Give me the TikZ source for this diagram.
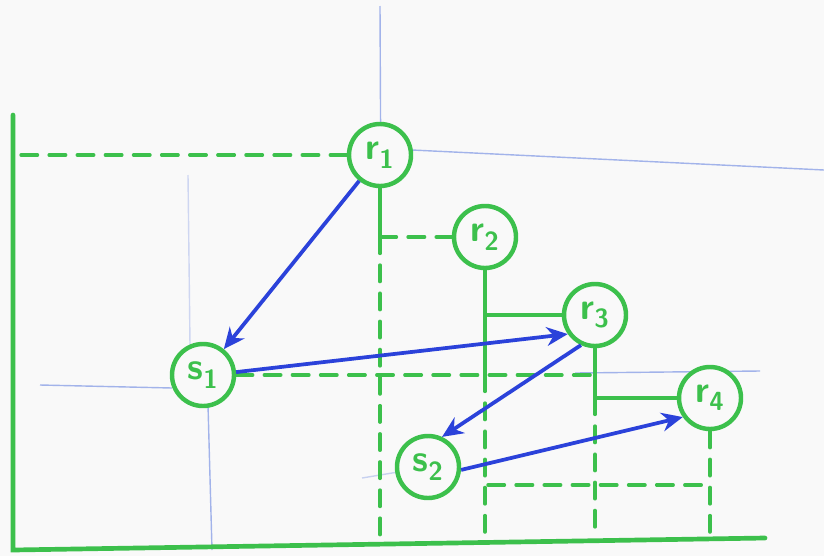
\documentclass[tikz,border=0pt]{standalone}
\usetikzlibrary{arrows.meta, calc}
\definecolor{wbGreen}{HTML}{3CC04C}
\definecolor{wbBlue}{HTML}{2B42DA}
\definecolor{wbFaint}{HTML}{7E96E4}
\definecolor{wbBoard}{HTML}{F9F9F9}
\tikzset{
  axisline/.style  = {wbGreen, line width=4pt, line cap=round},
  guide/.style     = {wbGreen, line width=3pt, line cap=round},
  guidedash/.style = {guide, dash pattern=on 14pt off 10pt},
  pt/.style        = {circle, draw=wbGreen, line width=3.8pt, minimum size=1.86cm,
                      inner sep=0pt, fill=wbBoard, text=wbGreen,
                      font=\sffamily\bfseries\fontsize{32}{34}\selectfont},
  link/.style      = {-{Stealth[length=18pt, width=16pt]}, wbBlue, line width=3.2pt},
  ghost/.style     = {wbFaint, line width=1.2pt, opacity=0.7},
}

\begin{document}
\begin{tikzpicture}[x=0.03cm, y=-0.03cm]
  \fill[wbBoard] (0,0) rectangle (824,556);
  \useasboundingbox (0,0) rectangle (824,556);
  % half erased blue lines
  \draw[ghost] (380,6) -- (381,215);
  \draw[ghost] (412,150) -- (824,170);
  \draw[ghost, opacity=0.35] (188,175) -- (190,345);
  \draw[ghost] (40,385) -- (172,388);
  \draw[ghost] (208,405) -- (212,550);
  \draw[ghost] (575,373) -- (760,371);
  \draw[ghost, opacity=0.4] (362,478) -- (398,472);
  % axes
  \coordinate (ytop) at (13,115);
  \coordinate (org) at (13,550);
  \coordinate (xend) at (765,538);
  \draw[axisline] (ytop) -- (org) -- (xend);
  % points
  \node[pt] (r1) at (380,155) {r\textsubscript{1}};
  \node[pt] (r2) at (485,237) {r\textsubscript{2}};
  \node[pt] (r3) at (595,315) {r\textsubscript{3}};
  \node[pt] (r4) at (710,398) {r\textsubscript{4}};
  \node[pt] (s1) at (203,375) {s\textsubscript{1}};
  \node[pt] (s2) at (428,467) {s\textsubscript{2}};
  % staircase
  \coordinate (j12) at (r1 |- r2.west);
  \coordinate (j23) at (r2 |- r3.west);
  \coordinate (j34) at (r3 |- r4.west);
  \coordinate (h2) at (488,485);
  \draw[guidedash] (r1.west) -- (r1.west -| ytop);
  \draw[guide] (r1.south) -- (j12);
  \draw[guidedash] (j12) -- (r2.west);
  \draw[guidedash] (j12) -- (j12 |- xend);
  \draw[guide] (r2.south) -- (j23) -- (r3.west);
  \draw[guide] (j23) -- (r2 |- s1);
  \draw[guidedash] (r2 |- s1) -- (r2 |- xend);
  \draw[guide] (r3.south) -- (j34) -- (r4.west);
  \draw[guidedash] (j34) -- (j34 |- xend);
  \draw[guidedash] (r4.south) -- (r4 |- xend);
  \draw[guidedash] (s1.east) -- (s1 -| r3);
  \draw[guidedash] (h2) -- (h2 -| r4);
  % moves
  \draw[link] (r1) -- (s1);
  \draw[link] (s1.5) -- (r3.215);
  \draw[link] (r3.245) -- (s2.65);
  \draw[link] (s2.355) -- (r4.215);
\end{tikzpicture}
\end{document}
